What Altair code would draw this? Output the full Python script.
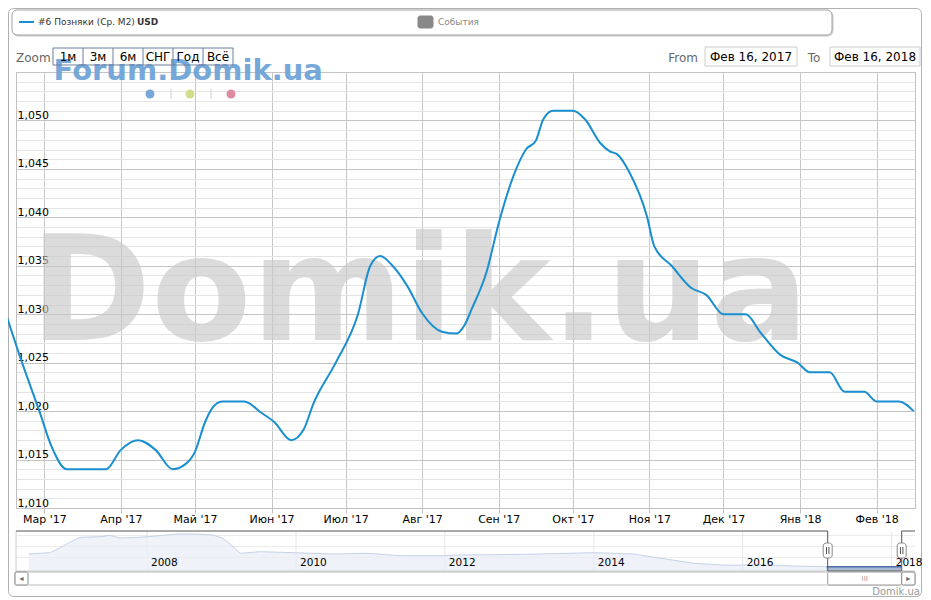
import altair as alt
import pandas as pd

# ---------------- data ----------------
main_dates = [
    "2017-02-11", "2017-02-20", "2017-02-27", "2017-03-04", "2017-03-10", "2017-03-26",
    "2017-04-01", "2017-04-08", "2017-04-15", "2017-04-22", "2017-04-27", "2017-05-01",
    "2017-05-05", "2017-05-08", "2017-05-12", "2017-05-21", "2017-05-28", "2017-06-02",
    "2017-06-09", "2017-06-14", "2017-06-18", "2017-06-27", "2017-07-06", "2017-07-11",
    "2017-07-15", "2017-07-20", "2017-07-26", "2017-08-01", "2017-08-09", "2017-08-15",
    "2017-08-18", "2017-08-21", "2017-08-27", "2017-09-01", "2017-09-07", "2017-09-12",
    "2017-09-16", "2017-09-19", "2017-09-23", "2017-10-01", "2017-10-06", "2017-10-12",
    "2017-10-16", "2017-10-19", "2017-10-24", "2017-10-31", "2017-11-03", "2017-11-10",
    "2017-11-18", "2017-11-24", "2017-12-01", "2017-12-10", "2017-12-16", "2017-12-24",
    "2017-12-31", "2018-01-05", "2018-01-13", "2018-01-19", "2018-01-27", "2018-02-01",
    "2018-02-10", "2018-02-16",
]
main_values = [
    1.0320, 1.0250, 1.0200, 1.0163, 1.0140, 1.0140,
    1.0160, 1.0170, 1.0160, 1.0140, 1.0145, 1.0158,
    1.0188, 1.0203, 1.0210, 1.0210, 1.0198, 1.0189,
    1.0170, 1.0181, 1.0208, 1.0250, 1.0300, 1.0350,
    1.0360, 1.0350, 1.0329, 1.0301, 1.0282, 1.0280,
    1.0288, 1.0305, 1.0343, 1.0394, 1.0443, 1.0470,
    1.0479, 1.0501, 1.0510, 1.0510, 1.0501, 1.0477,
    1.0468, 1.0465, 1.0446, 1.0401, 1.0370, 1.0350,
    1.0327, 1.0320, 1.0300, 1.0300, 1.0281, 1.0258,
    1.0250, 1.0240, 1.0240, 1.0220, 1.0220, 1.0210,
    1.0210, 1.0200,
]

# navigator (full history, relative level)
nav_dates = [
    "2006-05-31", "2006-09-11", "2006-10-30", "2006-12-18", "2007-02-06", "2007-05-15",
    "2007-07-03", "2007-08-21", "2007-11-27", "2008-03-05", "2008-05-26", "2008-08-14",
    "2008-11-20", "2009-01-08", "2009-02-26", "2009-04-02", "2009-07-09", "2009-12-18",
    "2010-07-02", "2010-12-16", "2011-05-27", "2011-12-24", "2012-03-17", "2013-02-10",
    "2013-12-31", "2014-07-15", "2014-12-29", "2015-05-06", "2015-10-20", "2016-03-30",
    "2016-09-08", "2017-02-16", "2018-02-16",
]
nav_values = [
    17, 18.3, 23, 28.7, 33.7, 34.3,
    35.7, 33, 33.7, 35.3, 37, 37,
    36, 32.7, 24.3, 17.7, 19.3, 18.3,
    17, 17.7, 15.3, 15.3, 16, 16.7,
    18.3, 17, 11.7, 7.7, 5.7, 6.3,
    5, 4.3, 4.3,
]
nav_year_dates = ["2008-01-01", "2010-01-01", "2012-01-01", "2014-01-01", "2016-01-01", "2018-01-01"]
nav_year_labels = ["2008", "2010", "2012", "2014", "2016", "2018"]

month_names = ["Янв", "Фев", "Мар", "Апр", "Май", "Июн", "Июл", "Авг", "Сен", "Окт", "Ноя", "Дек"]
tick_months = [(2017, m) for m in range(3, 13)] + [(2018, 1), (2018, 2)]
y_ticks = [round(1.010 + i * 0.001, 3) for i in range(46)]

zoom_buttons = ["1м", "3м", "6м", "СНГ", "Год", "Всё"]
series_name = "#6 Позняки (Ср. М2)"
range_from = "Фев 16, 2017"
range_to = "Фев 16, 2018"

# ---------------- styling ----------------
LINE = "#1a8fcf"
FONT = "DejaVu Sans"
OX, OY = 16, 72          # plot origin in page coordinates
W, H = 899, 436


def X(px):
    return px - OX


def Y(py):
    return py - OY


def one():
    return alt.Data(values=[{"k": 0}])


def rect(x1, y1, x2, y2, fill="white", stroke="#999999", sw=1, r=0, fo=1.0):
    return alt.Chart(one()).mark_rect(
        fill=fill, stroke=stroke, strokeWidth=sw, cornerRadius=r, fillOpacity=fo
    ).encode(x=alt.value(X(x1)), x2=alt.value(X(x2)), y=alt.value(Y(y1)), y2=alt.value(Y(y2)))


def rule(x1, y1, x2, y2, color="#999999", sw=1):
    return alt.Chart(one()).mark_rule(color=color, strokeWidth=sw).encode(
        x=alt.value(X(x1)), x2=alt.value(X(x2)), y=alt.value(Y(y1)), y2=alt.value(Y(y2))
    )


def text(x, y, s, size=12, color="#000000", align="left", baseline="middle",
         weight="normal", op=1.0):
    return alt.Chart(one()).mark_text(
        text=s, fontSize=size, color=color, align=align, baseline=baseline,
        fontWeight=weight, font=FONT, opacity=op
    ).encode(x=alt.value(X(x)), y=alt.value(Y(y)))


# ---------------- main series ----------------
main_df = pd.DataFrame({"d": [d + "T00:00:00" for d in main_dates], "v": main_values})

month_arr = "[" + ",".join("'" + m + "'" for m in month_names) + "]"
x_label_expr = month_arr + "[month(datum.value)] + \" '\" + timeFormat(datum.value, '%y')"
y_label_expr = ("(round(datum.value*1000) % 5 == 0 && datum.value < 1.0545) ? "
                "replace(format(datum.value, '.3f'), '.', ',') : ''")

x_main = alt.X(
    "d:T",
    scale=alt.Scale(domain=[alt.DateTime(year=2017, month=2, date=17, hours=13),
                            alt.DateTime(year=2018, month=2, date=16, hours=13)], nice=False),
    axis=alt.Axis(
        values=[alt.DateTime(year=yy, month=mm, date=1) for yy, mm in tick_months],
        labelExpr=x_label_expr, title=None, grid=True, gridColor="#c8c8c8",
        domainColor="#c0c0c0", tickColor="#c0c0c0", tickSize=5, labelPadding=0,
        labelFontSize=11, labelColor="#000000", labelFont=FONT, labelFlush=False,
        labelOverlap=False,
    ),
)
y_main = alt.Y(
    "v:Q",
    scale=alt.Scale(domain=[1.010, 1.055], nice=False, zero=False),
    axis=alt.Axis(
        values=y_ticks, labelExpr=y_label_expr, title=None, grid=True,
        gridColor={"condition": {"test": "round(datum.value*1000) % 5 == 0", "value": "#c4c4c4"},
                   "value": "#e4e4e4"},
        ticks=False, tickSize=0, domainColor="#c0c0c0", labelAlign="left",
        labelBaseline="bottom", labelPadding=-1, labelFontSize=11, labelColor="#000000",
        labelFont=FONT, labelFlush=False, labelOverlap=False,
    ),
)

line = alt.Chart(main_df).mark_line(color=LINE, strokeWidth=2, interpolate="monotone").encode(
    x=x_main, y=y_main
)

watermark = text(30, 340, "Domik.ua", size=146, color="#c8c8c8", baseline="alphabetic",
                 weight="bold", op=0.64)

# header decorations
deco = [
    rect(8.5, 8.5, 921.5, 596.5, fill="white", stroke="#b0b0b0", r=5, fo=0.0),
    rect(13, 11, 833, 36, fill="#dddddd", stroke="#cccccc", r=5),
    rect(12, 10, 832, 35, fill="white", stroke="#a0a0a0", r=5),
    rule(19, 22, 34, 22, color=LINE, sw=2),
    text(38, 22, series_name, size=9, color="#333333"),
    text(137, 22, "USD", size=9, color="#333333", weight="bold"),
    rect(418, 16, 433, 28, fill="#888888", stroke="#888888", r=2),
    text(438, 22, "События", size=9, color="#888888"),
    text(16, 57.5, "Zoom", size=12, color="#666666"),
    text(698, 57.5, "From", size=12, color="#666666", align="right"),
    rect(705, 47, 797, 66, fill="white", stroke="#cccccc"),
    text(751, 57, range_from, size=12, align="center"),
    text(814, 57.5, "To", size=12, color="#666666", align="center"),
    rect(830, 47, 920, 66, fill="white", stroke="#cccccc"),
    text(875, 57, range_to, size=12, align="center"),
    rule(915.5, 72, 915.5, 508, color="#c0c0c0"),
]

forum = [
    text(53.5, 80, "Forum.Domik.ua", size=29, color="#6fa5d8", baseline="alphabetic",
         weight="bold", op=0.95),
    rect(53, 48, 233, 65, fill="white", stroke="#6d7f9e", fo=0.0),
]
for i, lab in enumerate(zoom_buttons):
    if i > 0:
        forum.append(rule(53 + 30 * i, 48, 53 + 30 * i, 65, color="#6d7f9e"))
    forum.append(text(68 + 30 * i, 57, lab, size=12, align="center"))

dots = []
for cx, col in [(150, "#77a8d9"), (190, "#d6da8c"), (231, "#df8aa1")]:
    dots.append(alt.Chart(one()).mark_point(filled=True, size=80, color=col, opacity=1).encode(
        x=alt.value(X(cx)), y=alt.value(Y(94))))
dots += [rule(171, 89, 171, 99, color="#d0d0d0"), rule(211, 89, 211, 99, color="#d0d0d0")]

main_group = alt.layer(*deco[:3], watermark, line, *deco[3:], *forum, *dots)

# ---------------- navigator ----------------
nav_df = pd.DataFrame({"d": [d + "T00:00:00" for d in nav_dates], "v": nav_values})
year_df = pd.DataFrame({"d": [d + "T00:00:00" for d in nav_year_dates], "lab": nav_year_labels})

nav_x = alt.Scale(domain=[alt.DateTime(year=2008, month=1, date=1),
                          alt.DateTime(year=2018, month=1, date=1)],
                  range=[X(147), X(891.7)])
nav_y = alt.Scale(domain=[0, 40], range=[Y(571), Y(531)], zero=False, nice=False)

nav_hgrid = [rule(16, yy, 915, yy, color="#ececec") for yy in (535.5, 546.5, 557.5)]
nav_vgrid = alt.Chart(year_df).mark_rule(color="#e6e6e6").encode(
    x=alt.X("d:T", scale=nav_x, axis=None), y=alt.value(Y(531)), y2=alt.value(Y(571)))
nav_area = alt.Chart(nav_df).mark_area(
    color="#e8edf6", line={"color": "#c6d2e6", "strokeWidth": 1}, interpolate="linear"
).encode(x=alt.X("d:T", scale=nav_x, axis=None), y=alt.Y("v:Q", scale=nav_y, axis=None))
nav_sel = alt.Chart(nav_df).transform_filter(
    alt.FieldGTEPredicate(field="d", gte=alt.DateTime(year=2017, month=2, date=16))
).mark_area(
    color="#8aa1ca", line={"color": "#4d6ca5", "strokeWidth": 1.5}, interpolate="linear"
).encode(x=alt.X("d:T", scale=nav_x, axis=None), y=alt.Y("v:Q", scale=nav_y, axis=None))
nav_labels = alt.Chart(year_df).mark_text(
    align="left", dx=4, fontSize=10.5, font=FONT, color="#000000"
).encode(x=alt.X("d:T", scale=nav_x, axis=None), y=alt.value(Y(563)), text="lab:N")

H1, H2 = 827.7, 901.7
nav_deco = [
    rule(16, 531, 16, 571, color="#cccccc"),
    rule(16, 571, 915, 571, color="#cccccc"),
    rule(16, 531, H1, 531, color="#555555"),
    rule(H1, 531, H1, 571, color="#555555"),
    rule(H1, 571, H2, 571, color="#555555"),
    rule(H2, 531, H2, 571, color="#555555"),
    rule(H2, 531, 915, 531, color="#555555"),
    # scrollbar
    rect(15, 572, 915, 585, fill="#ffffff", stroke="#bbbbbb"),
    rect(15, 572, 28, 585, fill="#ffffff", stroke="#888888", r=2),
    text(21.5, 578.5, "◂", size=8, color="#666666", align="center"),
    rect(H1, 572, H2, 585, fill="#ffffff", stroke="#999999", r=2),
    text((H1 + H2) / 2, 578.5, "III", size=7, color="#999999", align="center"),
    rect(H2, 572, 915, 585, fill="#ffffff", stroke="#888888", r=2),
    text(908.3, 578.5, "▸", size=8, color="#666666", align="center"),
    text(920, 592, "Domik.ua", size=10, color="#999999", align="right"),
]
for hx in (H1, H2):
    nav_deco += [
        rect(hx - 4.5, 543, hx + 4.5, 558, fill="#ffffff", stroke="#888888", r=3),
        rule(hx - 1.2, 547, hx - 1.2, 554, color="#555555"),
        rule(hx + 1.2, 547, hx + 1.2, 554, color="#555555"),
    ]

nav_group = alt.layer(*nav_hgrid, nav_vgrid, nav_area, nav_sel, nav_labels, *nav_deco)

chart = alt.layer(main_group, nav_group).resolve_scale(
    x="independent", y="independent"
).properties(
    width=W, height=H,
    autosize=alt.AutoSizeParams(type="none"),
    padding={"left": 8, "top": 64, "right": 7, "bottom": 89},
).configure_view(stroke=None).configure(font=FONT)

chart.save("out.html", embed_options={"renderer": "svg", "actions": False})
